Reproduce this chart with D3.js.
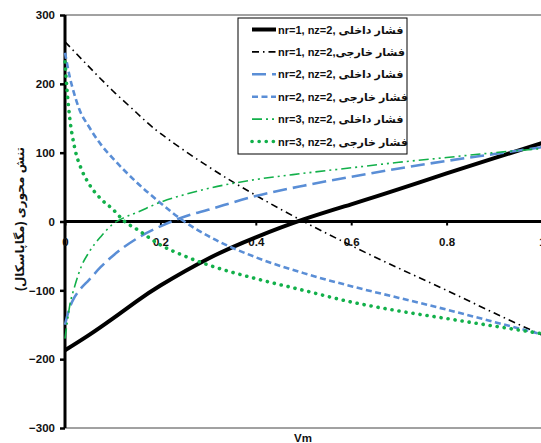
<!DOCTYPE html>
<html>
<head>
<meta charset="utf-8">
<script src="https://cdn.jsdelivr.net/npm/d3@7"></script>
<style>
  body { margin: 0; background: #fff; }
  svg text { font-family: Arial, "Liberation Sans", "DejaVu Sans", sans-serif; font-weight: bold; }
</style>
</head>
<body>
<div id="chart"></div>
<script>
// values
var vm1 = [0, 0.05, 0.1, 0.15, 0.2, 0.3, 0.4, 0.5, 0.6, 0.7, 0.8, 0.9, 1.0];
var s1Inner = [-187, -165, -141, -116, -93, -54, -23, 3, 25, 47, 70, 92, 114];
var s1Outer = [261, 225, 190, 158, 128, 80, 38, 0, -35, -68, -100, -133, -165];

var vm2 = [0, 0.01, 0.02, 0.03, 0.05, 0.075, 0.1, 0.15, 0.2, 0.25, 0.3, 0.4, 0.5, 0.6, 0.7, 0.8, 0.9, 1.0];
var s2Inner = [-150, -125, -110, -100, -85, -66, -50, -25, -7, 7, 17, 37, 52, 65, 77, 88, 98, 108];
var s2Outer = [245, 210, 184, 163, 138, 112, 92, 57, 27, 0, -21, -52, -75, -94, -111, -128, -146, -164];

var vm3 = [0, 0.005, 0.01, 0.02, 0.035, 0.05, 0.075, 0.1, 0.125, 0.15, 0.2, 0.25, 0.3, 0.4, 0.5, 0.6, 0.7, 0.8, 0.9, 1.0];
var s3Inner = [-170, -145, -122, -95, -64, -45, -22, -4, 6, 13, 28, 39, 48, 61, 70, 78, 86, 93, 100, 106];
var s3Outer = [232, 185, 150, 108, 75, 55, 33, 18, 0, -11, -34, -50, -63, -83, -100, -117, -130, -141, -152, -163];

var yTicks = [-300, -200, -100, 0, 100, 200, 300];
var xTicks = [0, 0.2, 0.4, 0.6, 0.8, 1];

var labels = [
  "nr=1, nz=2, فشار داخلی",
  "nr=1, nz=2,فشار خارجی",
  "nr=2, nz=2, فشار داخلی",
  "nr=2, nz=2, فشار خارجی",
  "nr=3, nz=2, فشار داخلی",
  "nr=3, nz=2, فشار خارجی"
];

var width = 541, height = 443;
var blue = "#5a8ed6", green = "#12b04a";

// styles for each series, same order as labels
var styles = [
  { color: "#000", w: 4, dash: null, cap: "butt" },
  { color: "#000", w: 1.6, dash: "7,4,1.5,4", cap: "butt" },
  { color: blue, w: 2.6, dash: "14,6", cap: "butt" },
  { color: blue, w: 2.6, dash: "6,3.5", cap: "butt" },
  { color: green, w: 1.6, dash: "10,4,2,4,2,4", cap: "butt" },
  { color: green, w: 3.6, dash: "0.1,7", cap: "round" }
];

var series = [
  { x: vm1, y: s1Inner },
  { x: vm1, y: s1Outer },
  { x: vm2, y: s2Inner },
  { x: vm2, y: s2Outer },
  { x: vm3, y: s3Inner },
  { x: vm3, y: s3Outer }
];

var svg = d3.select('#chart')
  .append('svg')
  .attr('width', width)
  .attr('height', height);

var x = d3.scaleLinear().domain([0, 1]).range([65, 542]);
var y = d3.scaleLinear().domain([-300, 300]).range([428, 15]);

// frame lines top / bottom
svg.append('line').attr('x1', 65).attr('x2', 542).attr('y1', y(300)).attr('y2', y(300))
  .attr('stroke', '#444').attr('stroke-width', 1);
svg.append('line').attr('x1', 65).attr('x2', 542).attr('y1', y(-300)).attr('y2', y(-300))
  .attr('stroke', '#444').attr('stroke-width', 1);

// y axis
var yAxis = svg.append('g')
  .attr('transform', 'translate(65,0)')
  .call(d3.axisLeft(y).tickValues(yTicks).tickSize(5).tickPadding(5));
yAxis.select('.domain').remove();
yAxis.selectAll('line').attr('stroke-width', 2.5);
yAxis.selectAll('text').style('font-size', '11.5px').attr('fill', '#111');
svg.append('line').attr('x1', 65).attr('x2', 65).attr('y1', y(300)).attr('y2', y(-300))
  .attr('stroke', '#000').attr('stroke-width', 3);

// x axis at zero
var xAxis = svg.append('g')
  .attr('transform', 'translate(0,' + y(0) + ')')
  .call(d3.axisBottom(x).tickValues(xTicks).tickSize(4).tickPadding(12.5)
    .tickFormat(function(d) { return d3.format('')(d); }));
xAxis.select('.domain').remove();
xAxis.selectAll('line').attr('stroke-width', 2);
xAxis.selectAll('text').style('font-size', '11.5px').attr('fill', '#111');
svg.append('line').attr('x1', 65).attr('x2', 542).attr('y1', y(0)).attr('y2', y(0))
  .attr('stroke', '#000').attr('stroke-width', 3);

// curves
var line = d3.line()
  .x(function(d) { return x(d[0]); })
  .y(function(d) { return y(d[1]); })
  .curve(d3.curveMonotoneX);

var smoothLine = d3.line()
  .x(function(d) { return x(d[0]); })
  .y(function(d) { return y(d[1]); })
  .curve(d3.curveNatural);

series.forEach(function(s, i) {
  var pts = s.x.map(function(v, j) { return [v, s.y[j]]; });
  var st = styles[i];
  svg.append('path')
    .datum(pts)
    .attr('d', i < 2 ? smoothLine : line)
    .attr('fill', 'none')
    .attr('stroke', st.color)
    .attr('stroke-width', st.w)
    .attr('stroke-dasharray', st.dash)
    .attr('stroke-linecap', st.cap);
});

// legend
var lg = svg.append('g');
lg.append('rect')
  .attr('x', 238).attr('y', 18).attr('width', 169).attr('height', 136)
  .attr('fill', '#fff').attr('stroke', '#000').attr('stroke-width', 1);

labels.forEach(function(t, i) {
  var ly = 29.5 + i * 22.4;
  var st = styles[i];
  lg.append('line')
    .attr('x1', 252).attr('x2', 276).attr('y1', ly).attr('y2', ly)
    .attr('stroke', st.color)
    .attr('stroke-width', st.w)
    .attr('stroke-dasharray', st.dash)
    .attr('stroke-linecap', st.cap);
  lg.append('text')
    .attr('x', 278).attr('y', ly + 4)
    .style('font-size', '11px')
    .attr('fill', '#111')
    .text(t);
});

// axis titles
svg.append('text')
  .attr('transform', 'translate(24,' + 219 + ') rotate(-90)')
  .attr('text-anchor', 'middle')
  .style('font-size', '12px')
  .attr('fill', '#111')
  .text('تنش محوری (مگاپاسکال)');

svg.append('text')
  .attr('x', 303).attr('y', 442)
  .attr('text-anchor', 'middle')
  .style('font-size', '11.5px')
  .attr('fill', '#111')
  .text('Vm');
</script>
</body>
</html>
